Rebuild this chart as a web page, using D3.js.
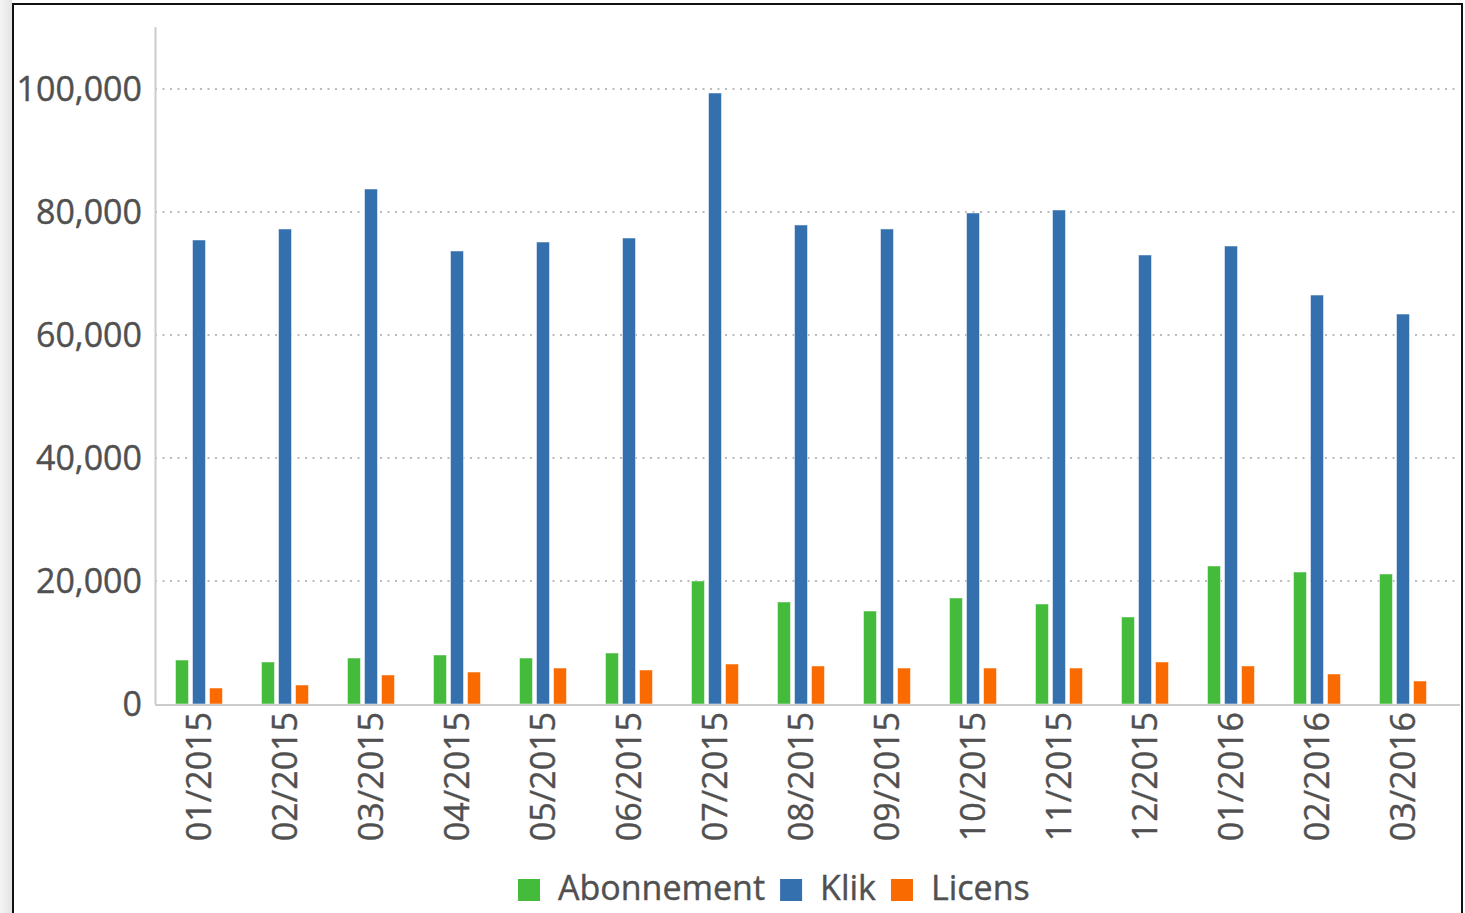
<!DOCTYPE html>
<html>
<head>
<meta charset="utf-8">
<script src="https://cdn.jsdelivr.net/npm/d3@7"></script>
<style>
  html, body { margin: 0; padding: 0; background: #fff; }
  svg { display: block; }
  text { font-family: "Open Sans", sans-serif; fill: #505050; }
</style>
</head>
<body>
<svg id="chart" width="1465" height="913"></svg>
<script>
const categories = ["01/2015","02/2015","03/2015","04/2015","05/2015","06/2015","07/2015","08/2015","09/2015","10/2015","11/2015","12/2015","01/2016","02/2016","03/2016"];
const seriesNames = ["Abonnement","Klik","Licens"];
const abonnement = [7150, 6830, 7480, 7970, 7480, 8290, 20000, 16590, 15120, 17240, 16260, 14150, 22440, 21460, 21140];
const klik = [75450, 77240, 83740, 73660, 75120, 75770, 99350, 77890, 77240, 79840, 80330, 73010, 74470, 66500, 63410];
const licens = [2600, 3090, 4720, 5200, 5850, 5530, 6500, 6180, 5850, 5850, 5850, 6830, 6180, 4880, 3740];
const colors = ["#44bb3a", "#3570ae", "#f96a00"];
const yTicks = [0, 20000, 40000, 60000, 80000, 100000];

const svg = d3.select("#chart");

// page frame
const grad = svg.append("defs").append("linearGradient").attr("id","lg").attr("x1","0").attr("x2","1");
grad.append("stop").attr("offset","0").attr("stop-color","#f4f4f4");
grad.append("stop").attr("offset","1").attr("stop-color","#e4e4e4");
svg.append("rect").attr("x",0).attr("y",0).attr("width",12).attr("height",913).attr("fill","url(#lg)");
svg.append("rect").attr("x",13).attr("y",4).attr("width",1449).attr("height",920)
  .attr("fill","#fff").attr("stroke","#111").attr("stroke-width",2);

const x0 = 156, x1 = 1446, yTop = 27, yBase = 704;
const x = d3.scaleBand().domain(categories).range([x0, x1]).padding(0);
const y = d3.scaleLinear().domain([0, 100000]).range([yBase, 89]);

// gridlines
svg.append("g").selectAll("line").data(yTicks.filter(d => d > 0)).join("line")
  .attr("x1", 155).attr("x2", 1460)
  .attr("y1", d => y(d)).attr("y2", d => y(d))
  .attr("stroke", "#bbb").attr("stroke-width", 2).attr("stroke-dasharray", "2,5.5");

// y axis
const yAxis = d3.axisLeft(y).tickValues(yTicks).tickSize(0).tickPadding(13)
  .tickFormat(d3.format(","));
const gy = svg.append("g").attr("transform", "translate(155,0)").call(yAxis);
gy.select(".domain").remove();
gy.selectAll("text").style("font-size", "34px").attr("fill", "#505050")
  .attr("stroke", "#505050").attr("stroke-width", 0.4).attr("dy", "0.34em");
svg.append("line").attr("x1", 155.5).attr("x2", 155.5).attr("y1", yTop).attr("y2", yBase)
  .attr("stroke", "#ccc").attr("stroke-width", 2);

// bars
const series = [abonnement, klik, licens];
const offsets = [-17, 0, 17];
const bw = 13;
series.forEach((vals, si) => {
  svg.append("g").selectAll("rect").data(vals).join("rect")
    .attr("x", (d, i) => x(categories[i]) + x.bandwidth() / 2 + offsets[si] - bw / 2)
    .attr("y", d => y(d))
    .attr("width", bw)
    .attr("height", d => yBase - y(d))
    .attr("fill", colors[si])
    .attr("stroke", "#fff").attr("stroke-opacity", 0.5).attr("stroke-width", 1);
});

// baseline
svg.append("line").attr("x1", 155).attr("x2", 1460).attr("y1", yBase + 1).attr("y2", yBase + 1)
  .attr("stroke", "#ccc").attr("stroke-width", 2);

// x axis
const xAxis = d3.axisBottom(x).tickSize(0).tickPadding(0);
const gx = svg.append("g").attr("transform", `translate(0,${yBase})`).call(xAxis);
gx.select(".domain").remove();
gx.selectAll("text")
  .style("font-size", "34px").attr("fill", "#505050")
  .attr("stroke", "#505050").attr("stroke-width", 0.4)
  .attr("text-anchor", "end")
  .attr("transform", "rotate(-90)")
  .attr("x", -8).attr("y", 0).attr("dy", "0.36em");

// legend
const legend = svg.append("g");
let lx = 518;
const ly = 879;
seriesNames.forEach((name, i) => {
  const g = legend.append("g").attr("transform", `translate(${lx},${ly})`);
  g.append("rect").attr("width", 22).attr("height", 22).attr("fill", colors[i]);
  const t = g.append("text").attr("x", 40).attr("y", 21).style("font-size", "34px")
    .attr("fill", "#505050").attr("stroke", "#505050").attr("stroke-width", 0.4).text(name);
  lx += 40 + t.node().getComputedTextLength() + 15;
});
</script>
</body>
</html>
